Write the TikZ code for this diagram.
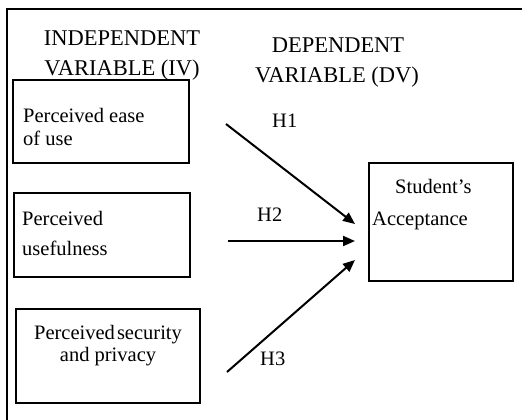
\documentclass[tikz,border=0pt]{standalone}
\usepackage{fontspec}
\setmainfont{Liberation Serif}
\usetikzlibrary{arrows.meta}
\begin{document}
\begin{tikzpicture}[x=1pt,y=-1pt,
  head/.style={font=\fontsize{22.5}{30}\selectfont, inner sep=0pt, anchor=base},
  txt/.style={font=\fontsize{20.5}{25}\selectfont, inner sep=0pt, anchor=base west},
  ctxt/.style={font=\fontsize{20.5}{25}\selectfont, inner sep=0pt, anchor=base},
  vbox/.style={draw, line width=1.5pt, inner sep=0pt},
  hyp/.style={line width=2pt, -{Triangle[length=12pt,width=10pt]}}]
\useasboundingbox (0,0) rectangle (522,420);
% outer frame (only top and left edges visible)
\draw[line width=1.5pt] (7,420) -- (7,9) -- (522,9);
% headings
\node[head] (iv1) at (122,46) {INDEPENDENT};
\node[head] (iv2) at (122,75.5) {VARIABLE (IV)};
\node[head] (dv1) at (338,53) {DEPENDENT};
\node[head] (dv2) at (337,82) {VARIABLE (DV)};
% boxes
\node[vbox, minimum width=176pt, minimum height=83pt] (b1) at (101,121.5) {};
\node[vbox, minimum width=176pt, minimum height=84pt] (b2) at (102,235) {};
\node[vbox, minimum width=184pt, minimum height=94pt] (b3) at (108,356) {};
\node[vbox, minimum width=144pt, minimum height=118pt] (dv) at (441,222) {};
% box texts
\node[txt] (t1a) at (23,122.5) {Perceived ease};
\node[txt] (t1b) at (23,145.5) {of use};
\node[txt] (t2a) at (22,225) {Perceived};
\node[txt] (t2b) at (22,255) {usefulness};
\node[ctxt] (t3a) at (108,339) {Perceived\hspace{0.1em}security};
\node[ctxt] (t3b) at (108,361) {and privacy};
\node[txt] (t4a) at (395,193) {Student’s};
\node[txt] (t4b) at (372,225) {Acceptance};
% arrows
\coordinate (s1) at (226,124);
\coordinate (e1) at (355,224);
\coordinate (s2) at (228,241);
\coordinate (e2) at (355,241);
\coordinate (s3) at (227,372);
\coordinate (e3) at (355,260);
\draw[hyp] (s1) -- (e1);
\draw[hyp] (s2) -- (e2);
\draw[hyp] (s3) -- (e3);
% hypothesis labels
\node[txt] (h1) at (272,127) {H1};
\node[txt] (h2) at (257,221) {H2};
\node[txt] (h3) at (260,365) {H3};
\end{tikzpicture}
\end{document}
